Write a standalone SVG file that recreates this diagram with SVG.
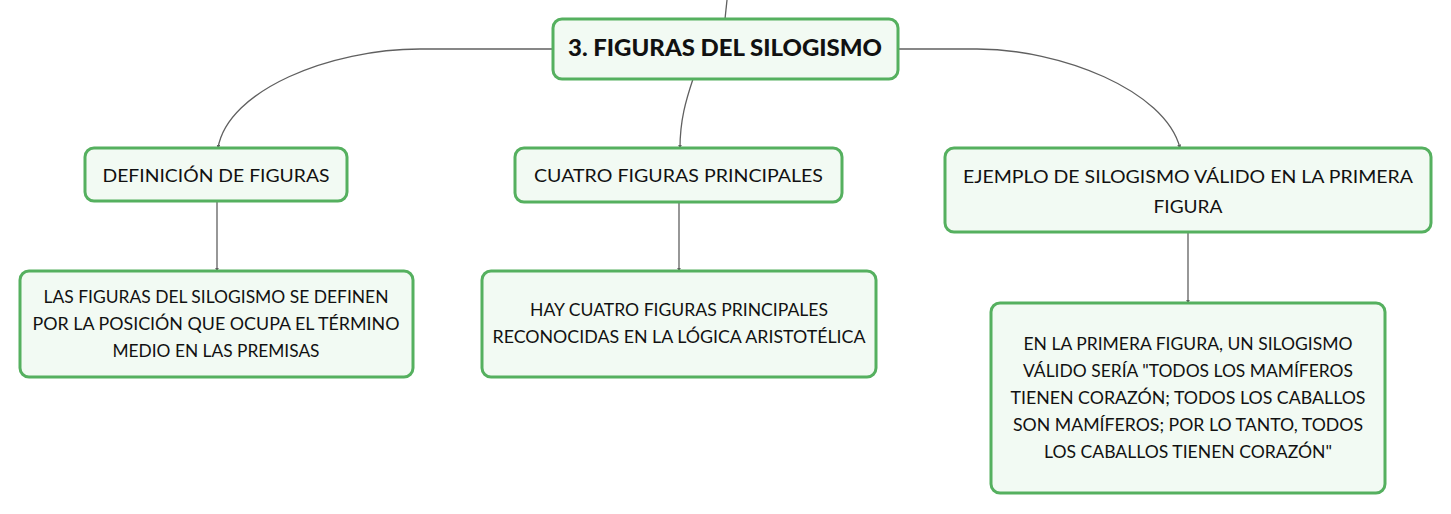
<svg xmlns="http://www.w3.org/2000/svg" width="1451" height="514" viewBox="0 0 1451 514">
<defs>
<style>
.node rect{fill:#f2faf3;stroke:#55b05f;stroke-width:3}
.t{font-family:Lato,"Noto Sans","Liberation Sans",sans-serif;fill:#111;text-anchor:middle}
.title{font-weight:900;font-size:22px}
.lab{font-size:18px}
.sub{font-size:17px}
.edge{fill:none;stroke:#606060;stroke-width:1.3}
</style>
<marker id="ah" viewBox="0 0 6 6" refX="5" refY="3" markerWidth="4" markerHeight="4" orient="auto" markerUnits="userSpaceOnUse">
<path d="M0,0 L6,3 L0,6 z" fill="#606060"/>
</marker>
</defs>
<rect width="1451" height="514" fill="#ffffff"/>
<g id="connectors">
<path class="edge" d="M727,0 L725,19"/>
<path class="edge" d="M553,49 L420,49 C330,49 228,90 218,148" marker-end="url(#ah)"/>
<path class="edge" d="M693,79 C686,100 680,120 680,148" marker-end="url(#ah)"/>
<path class="edge" d="M897,49 L977,49 C1060,49 1165,90 1180,148" marker-end="url(#ah)"/>
<path class="edge" d="M217,201 L217,271" marker-end="url(#ah)"/>
<path class="edge" d="M679,202 L679,271" marker-end="url(#ah)"/>
<path class="edge" d="M1188,232 L1188,303" marker-end="url(#ah)"/>
</g>
<g id="node-root" class="node">
<rect x="553" y="19" width="345" height="60" rx="9"/>
<text class="t title" x="725" y="56" textLength="314" lengthAdjust="spacingAndGlyphs">3. FIGURAS DEL SILOGISMO</text>
</g>
<g id="node-definicion" class="node">
<rect x="85" y="148" width="262" height="53" rx="9"/>
<text class="t lab" x="216" y="182" textLength="227" lengthAdjust="spacingAndGlyphs">DEFINICIÓN DE FIGURAS</text>
</g>
<g id="node-cuatro" class="node">
<rect x="515" y="148" width="327" height="54" rx="9"/>
<text class="t lab" x="678.5" y="182" textLength="289" lengthAdjust="spacingAndGlyphs">CUATRO FIGURAS PRINCIPALES</text>
</g>
<g id="node-ejemplo" class="node">
<rect x="945" y="148" width="486" height="84" rx="9"/>
<text class="t lab" x="1188" y="183" textLength="450" lengthAdjust="spacingAndGlyphs">EJEMPLO DE SILOGISMO VÁLIDO EN LA PRIMERA</text>
<text class="t lab" x="1188" y="213" textLength="69" lengthAdjust="spacingAndGlyphs">FIGURA</text>
</g>
<g id="node-definicion-detalle" class="node">
<rect x="20" y="271" width="393" height="106" rx="9"/>
<text class="t sub" x="216" y="303" textLength="345" lengthAdjust="spacingAndGlyphs">LAS FIGURAS DEL SILOGISMO SE DEFINEN</text>
<text class="t sub" x="216" y="330" textLength="367" lengthAdjust="spacingAndGlyphs">POR LA POSICIÓN QUE OCUPA EL TÉRMINO</text>
<text class="t sub" x="216" y="357" textLength="207" lengthAdjust="spacingAndGlyphs">MEDIO EN LAS PREMISAS</text>
</g>
<g id="node-cuatro-detalle" class="node">
<rect x="482" y="271" width="394" height="106" rx="9"/>
<text class="t sub" x="679" y="316" textLength="298" lengthAdjust="spacingAndGlyphs">HAY CUATRO FIGURAS PRINCIPALES</text>
<text class="t sub" x="679" y="343" textLength="373" lengthAdjust="spacingAndGlyphs">RECONOCIDAS EN LA LÓGICA ARISTOTÉLICA</text>
</g>
<g id="node-ejemplo-detalle" class="node">
<rect x="991" y="303" width="394" height="190" rx="9"/>
<text class="t sub" x="1188" y="350" textLength="329" lengthAdjust="spacingAndGlyphs">EN LA PRIMERA FIGURA, UN SILOGISMO</text>
<text class="t sub" x="1188" y="377" textLength="330" lengthAdjust="spacingAndGlyphs">VÁLIDO SERÍA "TODOS LOS MAMÍFEROS</text>
<text class="t sub" x="1188" y="404" textLength="355" lengthAdjust="spacingAndGlyphs">TIENEN CORAZÓN; TODOS LOS CABALLOS</text>
<text class="t sub" x="1188" y="431" textLength="350" lengthAdjust="spacingAndGlyphs">SON MAMÍFEROS; POR LO TANTO, TODOS</text>
<text class="t sub" x="1188" y="458" textLength="288" lengthAdjust="spacingAndGlyphs">LOS CABALLOS TIENEN CORAZÓN"</text>
</g>
</svg>
